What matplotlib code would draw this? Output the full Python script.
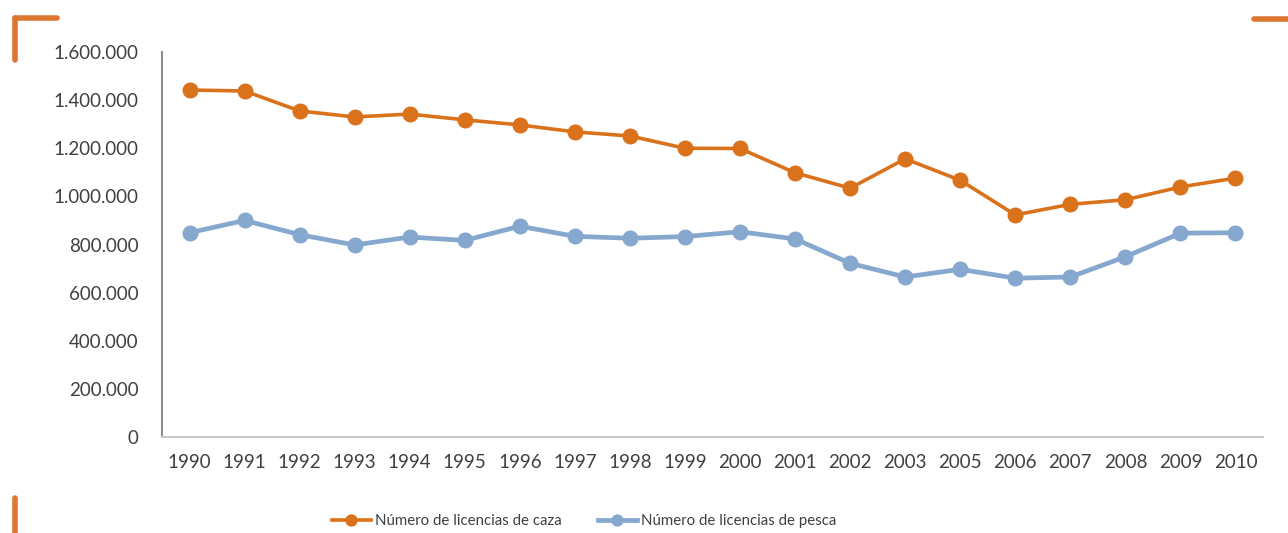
import matplotlib
matplotlib.use("Agg")
import matplotlib.pyplot as plt
from matplotlib.lines import Line2D
from matplotlib.ticker import FuncFormatter

years = ["1990", "1991", "1992", "1993", "1994", "1995", "1996", "1997", "1998", "1999",
         "2000", "2001", "2002", "2003", "2005", "2006", "2007", "2008", "2009", "2010"]
caza = [1442000, 1438000, 1355000, 1330000, 1342000, 1318000, 1297000, 1268000, 1251000, 1200000,
        1199000, 1098000, 1034000, 1156000, 1067000, 923000, 967000, 986000, 1039000, 1076000]
pesca = [849000, 900000, 841000, 798000, 831000, 817000, 876000, 834000, 826000, 833000,
         853000, 823000, 722000, 665000, 697000, 660000, 665000, 749000, 847000, 849000]
yticks = [0, 200000, 400000, 600000, 800000, 1000000, 1200000, 1400000, 1600000]
labels = ["Número de licencias de caza", "Número de licencias de pesca"]

ORANGE = "#DA711B"
BLUE = "#86A8CF"
TXT = "#404040"

plt.rcParams['font.family'] = ['Lato', 'DejaVu Sans']

fig = plt.figure(figsize=(12.88, 5.33), dpi=100)
ax = fig.add_axes([162/1288, (533-437)/533, (1263-162)/1288, (437-52)/533])

x = list(range(len(years)))
ax.plot(x, caza, color=ORANGE, lw=2.6, marker='o', ms=10.5, label=labels[0], zorder=3)
ax.plot(x, pesca, color=BLUE, lw=3.4, marker='o', ms=10.5, label=labels[1], zorder=3)

ax.set_xlim(-0.5, len(years) - 0.5)
ax.set_ylim(0, 1600000)
ax.set_xticks(x)
ax.set_xticklabels(years)
ax.set_yticks(yticks)
ax.yaxis.set_major_formatter(FuncFormatter(lambda v, p: f"{int(v):,}".replace(",", ".")))
ax.tick_params(axis='both', length=0, labelsize=13.5, colors=TXT, labelcolor=TXT)
ax.tick_params(axis='y', pad=17)
ax.tick_params(axis='x', pad=12)
for s in ['top', 'right']:
    ax.spines[s].set_visible(False)
ax.spines['left'].set_color('#8c8c8c')
ax.spines['left'].set_linewidth(1.5)
ax.spines['bottom'].set_color('#c8c8c8')
ax.spines['bottom'].set_linewidth(1.5)

leg = fig.legend(loc='center', bbox_to_anchor=(584/1288, 1 - 521/533), ncol=2, frameon=False,
                 fontsize=10.8, handlelength=2.6, handletextpad=0.27, columnspacing=2.4,
                 markerscale=0.75)
for t in leg.get_texts():
    t.set_color(TXT)

def fl(x0, y0, x1, y1):
    fig.add_artist(Line2D([x0/1288, x1/1288], [1 - y0/533, 1 - y1/533], transform=fig.transFigure,
                          color="#DC7630", lw=4, solid_capstyle='round'))

fl(15, 18, 57, 18)
fl(15, 18, 15, 60)
fl(1254, 19, 1295, 19)
fl(15, 498, 15, 540)

fig.savefig("out.png", dpi=100)
